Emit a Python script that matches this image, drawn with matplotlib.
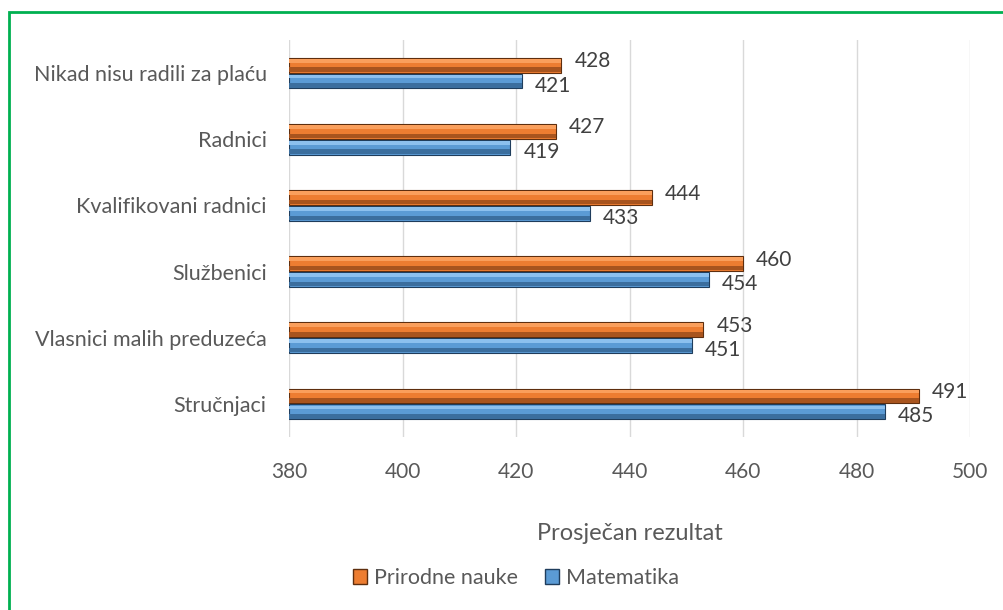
import matplotlib.pyplot as plt
import matplotlib.patches as mpatches
import numpy as np

plt.rcParams['font.family'] = ['Lato', 'DejaVu Sans']

# data, bottom to top as drawn
categories = ["Stručnjaci", "Vlasnici malih preduzeća", "Službenici",
              "Kvalifikovani radnici", "Radnici", "Nikad nisu radili za plaću"]
prirodne = [491, 453, 460, 444, 427, 428]
matematika = [485, 451, 454, 433, 419, 421]
xticks = [380, 400, 420, 440, 460, 480, 500]

txt = "#595959"
lbl = "#404040"

fig = plt.figure(figsize=(10.04, 6.10), dpi=100)
ax = fig.add_axes([289/1004, 1-437/610, (970-289)/1004, 397/610])

y = np.arange(len(categories))
h = 0.225
off = 0.12
base = 380

def bevel_bar(ypos, vals, c_mid, c_top, c_bot, c_edge):
    w = np.array(vals) - base
    ax.barh(ypos, w, height=h, left=base, color=c_mid, edgecolor=c_edge, linewidth=0.8, zorder=3)
    ax.barh(ypos + h*0.3, w, height=h*0.25, left=base, color=c_top, linewidth=0, zorder=4)
    ax.barh(ypos - h*0.3, w, height=h*0.3, left=base, color=c_bot, linewidth=0, zorder=4)

bevel_bar(y + off, prirodne, "#ED7D31", "#FA9F5C", "#A8541E", "#5E2E0E")
bevel_bar(y - off, matematika, "#5B9BD5", "#8CC0EE", "#3B6E9E", "#1F3D5C")

for i in range(len(categories)):
    ax.text(prirodne[i] + 2.3, y[i] + off + 0.06, str(prirodne[i]), va="center",
            ha="left", fontsize=15, color=lbl)
    ax.text(matematika[i] + 2.3, y[i] - off - 0.07, str(matematika[i]), va="center",
            ha="left", fontsize=15, color=lbl)

ax.set_xlim(380, 500)
ax.set_ylim(-0.5, len(categories) - 0.5)
ax.set_xticks(xticks)
ax.set_xticklabels([str(v) for v in xticks], fontsize=15, color=txt)
ax.set_yticks(y)
ax.set_yticklabels(categories, fontsize=15.5, color=txt)
ax.tick_params(axis="x", length=0, pad=18)
ax.tick_params(axis="y", length=0, pad=16)
ax.grid(axis="x", color="#D9D9D9", linewidth=1, zorder=0)
for s in ax.spines.values():
    s.set_visible(False)

fig.text((289+970)/2/1004, 1-533/610, "Prosječan rezultat", ha="center", va="center",
         fontsize=17, color=txt)

handles = [mpatches.Patch(facecolor="#ED7D31", edgecolor="#5E2E0E", label="Prirodne nauke"),
           mpatches.Patch(facecolor="#5B9BD5", edgecolor="#1F3D5C", label="Matematika")]
fig.legend(handles=handles, loc="center", bbox_to_anchor=(516/1004, 1-578/610), ncol=2,
           frameon=False, fontsize=15.5, handlelength=0.65, handleheight=0.65,
           handletextpad=0.3, columnspacing=1.3, labelcolor=txt)

# green frame (right and bottom edges fall outside the image)
fig.patches.append(mpatches.Rectangle((9/1004, -0.05), 1.05, 1-12/610+0.05,
                   transform=fig.transFigure, fill=False, edgecolor="#00B050", linewidth=2))

fig.savefig("out.png", dpi=100)
